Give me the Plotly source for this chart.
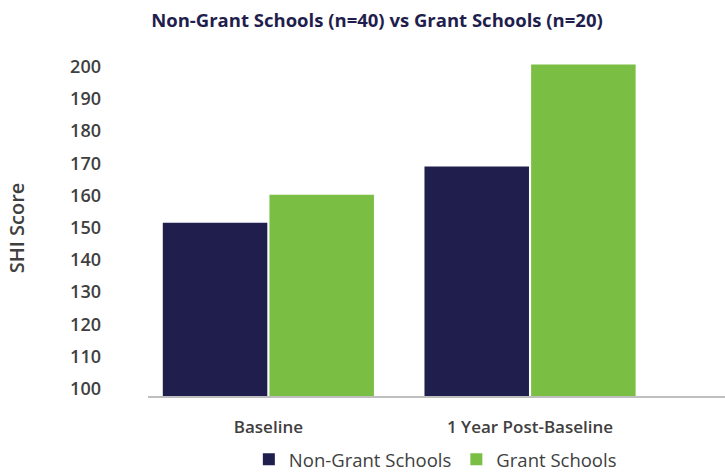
import plotly.graph_objects as go

categories = ["Baseline", "1 Year Post-Baseline"]
non_grant = [151.5, 169.0]
grant = [160.2, 200.6]
y_ticks = [100, 110, 120, 130, 140, 150, 160, 170, 180, 190, 200]

NAVY = "#1f1e4d"
GREEN = "#7abf43"
GRAY = "#404040"
FONT = "Open Sans"

fig = go.Figure()
fig.add_trace(go.Bar(name="Non-Grant Schools", x=categories, y=non_grant,
                     marker=dict(color=NAVY, line=dict(width=0))))
fig.add_trace(go.Bar(name="Grant Schools", x=categories, y=grant,
                     marker=dict(color=GREEN, line=dict(width=0))))

fig.update_layout(
    width=725, height=474,
    margin=dict(l=148, r=0, t=60, b=78, autoexpand=False),
    paper_bgcolor="white", plot_bgcolor="white",
    barmode="group", bargap=0.185, bargroupgap=0.02,
    title=dict(text="<b>Non-Grant Schools (n=40) vs Grant Schools (n=20)</b>",
               x=0.52, xanchor="center", y=0.957, yanchor="middle",
               font=dict(family=FONT, size=18.5, color=NAVY)),
    font=dict(family=FONT, color=GRAY),
    legend=dict(orientation="h", x=0.498, xanchor="center", y=-0.19, yanchor="middle",
                font=dict(family=FONT, size=18.5, color=GRAY),
                itemwidth=30, traceorder="normal", bgcolor="rgba(0,0,0,0)",
                borderwidth=0, tracegroupgap=0),
    showlegend=True,
)
fig.update_xaxes(
    range=[-0.46, 1.745], showgrid=False, zeroline=False,
    showline=True, linecolor="#bfbfbf", linewidth=1.5,
    ticks="", ticklabelstandoff=15, automargin=False,
    tickfont=dict(family=FONT, size=17, color=GRAY, weight=600),
)
fig.update_yaxes(
    range=[97.8, 202], showgrid=False, zeroline=False, showline=False,
    tickmode="array", tickvals=y_ticks, ticktext=[str(v) for v in y_ticks],
    ticks="", ticklabelstandoff=46, automargin=False,
    tickfont=dict(family=FONT, size=18, color=GRAY, weight=600),
    title=dict(text="SHI Score", standoff=40,
               font=dict(family=FONT, size=20, color=GRAY, weight=600)),
)

fig.write_html("out.html")
